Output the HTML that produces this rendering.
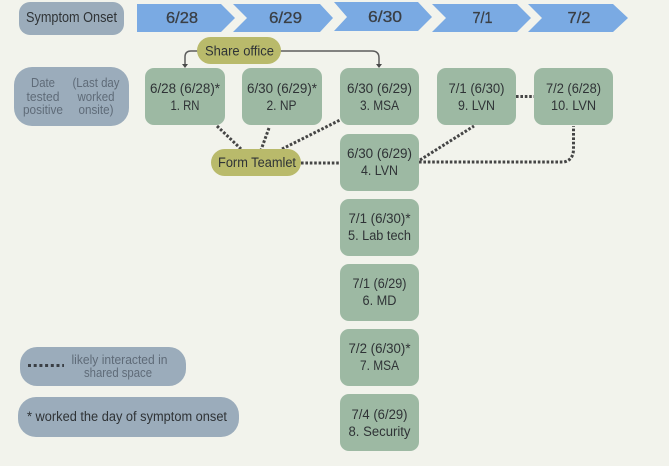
<!DOCTYPE html>
<html>
<head>
<meta charset="utf-8">
<style>
html,body{margin:0;padding:0;background:#f2f3ec;width:669px;height:466px;overflow:hidden}
svg{display:block;filter:blur(.35px)}
text{font-family:"Liberation Sans",sans-serif;text-anchor:middle;fill:#2f3336;font-size:13.5px}
.n{fill:#9db9a3}
.g{fill:#9bacbb}
.o{fill:#b9ba6b}
.c{fill:#7aaae3}
.d{fill:none;stroke:#454545;stroke-width:3;stroke-dasharray:2.6 1.8}
.l{fill:none;stroke:#5c5c5c;stroke-width:1.5}
.m{fill:#5f6b78;font-size:12.5px}
.h{font-size:16px;fill:#3a3f45;stroke:#3a3f45;stroke-width:.3}
</style>
</head>
<body>
<svg width="669" height="466" viewBox="0 0 669 466" xmlns="http://www.w3.org/2000/svg">
<rect width="669" height="466" fill="#f2f3ec"/>

<!-- header -->
<rect class="g" x="19" y="2" width="105" height="33" rx="11"/>
<text x="71.5" y="22" textLength="91" lengthAdjust="spacingAndGlyphs" style="font-size:14.5px">Symptom Onset</text>
<polygon class="c" points="137,4 221,4 235,18 221,32 137,32"/>
<polygon class="c" points="233,4 320,4 333,18 320,32 233,32 247,18"/>
<polygon class="c" points="334,2 418,2 432,17 418,31 334,31 347,17"/>
<polygon class="c" points="432,4 517,4 531,18 517,32 432,32 446,18"/>
<polygon class="c" points="528,4 613,4 628,18 613,32 528,32 542,18"/>
<text class="h" x="182" y="23" textLength="32" lengthAdjust="spacingAndGlyphs">6/28</text>
<text class="h" x="285.500" y="23" textLength="33" lengthAdjust="spacingAndGlyphs">6/29</text>
<text class="h" x="385" y="22" textLength="34" lengthAdjust="spacingAndGlyphs" stroke-width=".6">6/30</text>
<text class="h" x="482.500" y="23" textLength="20" lengthAdjust="spacingAndGlyphs">7/1</text>
<text class="h" x="579" y="23" textLength="23" lengthAdjust="spacingAndGlyphs">7/2</text>

<!-- date legend -->
<rect class="g" x="14" y="67" width="115" height="59" rx="18"/>
<text class="m" x="43" y="87" textLength="24" lengthAdjust="spacingAndGlyphs">Date</text>
<text class="m" x="43" y="101" textLength="33" lengthAdjust="spacingAndGlyphs">tested</text>
<text class="m" x="43" y="114" textLength="40" lengthAdjust="spacingAndGlyphs">positive</text>
<text class="m" x="96" y="87" textLength="47" lengthAdjust="spacingAndGlyphs">(Last day</text>
<text class="m" x="96" y="101" textLength="37" lengthAdjust="spacingAndGlyphs">worked</text>
<text class="m" x="96" y="114" textLength="35" lengthAdjust="spacingAndGlyphs">onsite)</text>

<!-- connectors -->
<path class="l" d="M198,51 H191 Q185,51 185,57 V65"/>
<polygon points="182,64 188,64 185,68" fill="#4a4a4a"/>
<path class="l" d="M280,51 H372 Q379,51 379,58 V65"/>
<polygon points="376,64 382,64 379,68" fill="#4a4a4a"/>
<path class="d" d="M217,126 L241,149"/>
<path class="d" d="M269,128 L261,150"/>
<path class="d" d="M282,149 L340,120"/>
<path class="d" d="M301,163 H340"/>
<path class="d" d="M516,96.500 H534"/>
<path class="d" d="M420,160 L474,126"/>
<path class="d" d="M419,162 H564 Q573,160 573.500,150 V126"/>

<!-- ovals -->
<rect class="o" x="197" y="37" width="84" height="27" rx="13.500"/>
<text x="239.500" y="55.500" textLength="69" lengthAdjust="spacingAndGlyphs">Share office</text>
<rect class="o" x="211" y="149" width="90" height="27" rx="13.500"/>
<text x="257" y="167" textLength="78" lengthAdjust="spacingAndGlyphs">Form Teamlet</text>

<!-- nodes -->
<rect class="n" x="145" y="68" width="80" height="57" rx="9"/>
<text x="185" y="93" textLength="70" lengthAdjust="spacingAndGlyphs">6/28 (6/28)*</text>
<text x="185" y="110" textLength="29" lengthAdjust="spacingAndGlyphs">1. RN</text>

<rect class="n" x="242" y="68" width="80" height="57" rx="9"/>
<text x="282" y="93" textLength="70" lengthAdjust="spacingAndGlyphs">6/30 (6/29)*</text>
<text x="281.500" y="110" textLength="30" lengthAdjust="spacingAndGlyphs">2. NP</text>

<rect class="n" x="340" y="68" width="79" height="57" rx="9"/>
<text x="379.500" y="93" textLength="65" lengthAdjust="spacingAndGlyphs">6/30 (6/29)</text>
<text x="379.500" y="110" textLength="39" lengthAdjust="spacingAndGlyphs">3. MSA</text>

<rect class="n" x="437" y="68" width="79" height="57" rx="9"/>
<text x="476.500" y="93" textLength="56" lengthAdjust="spacingAndGlyphs">7/1 (6/30)</text>
<text x="476.500" y="110" textLength="37" lengthAdjust="spacingAndGlyphs">9. LVN</text>

<rect class="n" x="534" y="68" width="79" height="57" rx="9"/>
<text x="573.500" y="93" textLength="55" lengthAdjust="spacingAndGlyphs">7/2 (6/28)</text>
<text x="573.500" y="110" textLength="45" lengthAdjust="spacingAndGlyphs">10. LVN</text>

<rect class="n" x="340" y="134" width="79" height="57" rx="9"/>
<text x="379.500" y="158" textLength="65" lengthAdjust="spacingAndGlyphs">6/30 (6/29)</text>
<text x="379.500" y="175" textLength="37" lengthAdjust="spacingAndGlyphs">4. LVN</text>

<rect class="n" x="340" y="199" width="79" height="57" rx="9"/>
<text x="379.500" y="223" textLength="62" lengthAdjust="spacingAndGlyphs">7/1 (6/30)*</text>
<text x="379.500" y="240" textLength="63" lengthAdjust="spacingAndGlyphs">5. Lab tech</text>

<rect class="n" x="340" y="264" width="79" height="57" rx="9"/>
<text x="379.500" y="288" textLength="54" lengthAdjust="spacingAndGlyphs">7/1 (6/29)</text>
<text x="379.500" y="305" textLength="34" lengthAdjust="spacingAndGlyphs">6. MD</text>

<rect class="n" x="340" y="329" width="79" height="57" rx="9"/>
<text x="379.500" y="353" textLength="62" lengthAdjust="spacingAndGlyphs">7/2 (6/30)*</text>
<text x="379.500" y="370" textLength="39" lengthAdjust="spacingAndGlyphs">7. MSA</text>

<rect class="n" x="340" y="394" width="79" height="57" rx="9"/>
<text x="379.500" y="419" textLength="56" lengthAdjust="spacingAndGlyphs">7/4 (6/29)</text>
<text x="379.500" y="436" textLength="62" lengthAdjust="spacingAndGlyphs">8. Security</text>

<!-- legends -->
<rect class="g" x="20" y="347" width="166" height="39" rx="17"/>
<path d="M28,365.500 H64" fill="none" stroke="#3a3f45" stroke-width="3" stroke-dasharray="3 2.700"/>
<text class="m" x="119.500" y="364" textLength="96" lengthAdjust="spacingAndGlyphs">likely interacted in</text>
<text class="m" x="118" y="377" textLength="68" lengthAdjust="spacingAndGlyphs">shared space</text>
<rect class="g" x="18" y="397" width="221" height="40" rx="18"/>
<text x="127" y="421" textLength="200" lengthAdjust="spacingAndGlyphs">* worked the day of symptom onset</text>
</svg>
</body>
</html>
